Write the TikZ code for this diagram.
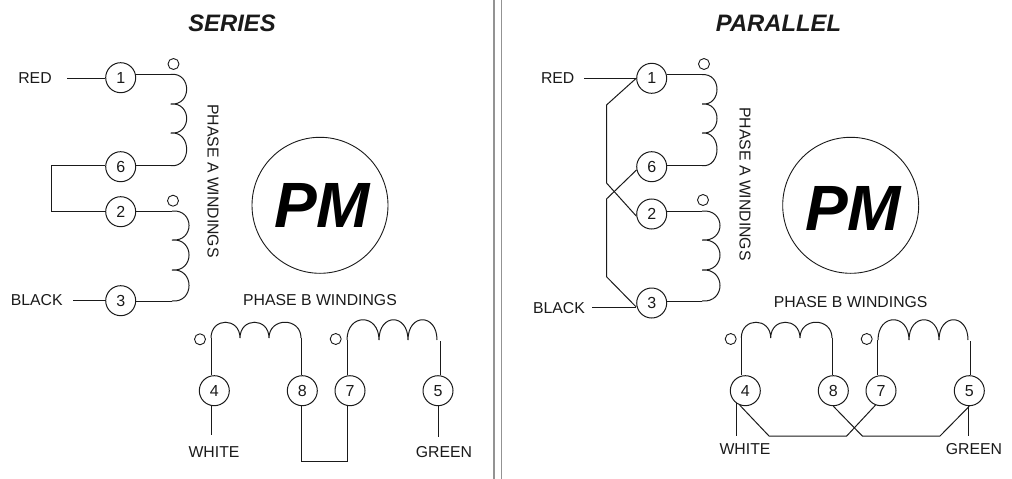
\documentclass[tikz,border=0pt]{standalone}
\usepackage{fontspec}
\setmainfont{Liberation Sans}
\definecolor{ink}{HTML}{1A1A1A}
\tikzset{
  wire/.style={draw=ink,line width=1pt,line join=miter},
  term/.style={circle,draw=ink,line width=1pt,minimum size=30pt,inner sep=0pt,font=\fontsize{16}{18}\selectfont,text=ink},
  tap/.style={circle,draw=ink,line width=0.9pt,minimum size=11pt,inner sep=0pt},
  lbl/.style={inner sep=0pt,font=\fontsize{15.8}{18}\selectfont,text=ink},
  heading/.style={inner sep=0pt,font=\fontsize{23.8}{26}\selectfont\bfseries\itshape,text=ink},
  motor/.style={circle,draw=ink,line width=0.9pt,minimum size=136pt,inner sep=0pt},
  pmtext/.style={inner sep=0pt,font=\fontsize{64}{66}\selectfont\bfseries\itshape,text=black},
  divider/.style={draw=gray!85,line width=1.4pt}
}
% vertical coil: x, control x, four y values
\newcommand{\vcoil}[6]{\draw[wire] (#1,#3) .. controls (#2,#3-2) and (#2,#4+2) .. (#1,#4)
  .. controls (#2,#4-2) and (#2,#5+2) .. (#1,#5)
  .. controls (#2,#5-2) and (#2,#6+2) .. (#1,#6);}
% horizontal coil: y, control y, four x values
\newcommand{\hcoil}[6]{\draw[wire] (#3,#1) .. controls (#3+0,#2) and (#4-0,#2) .. (#4,#1)
  .. controls (#4+0,#2) and (#5-0,#2) .. (#5,#1)
  .. controls (#5+0,#2) and (#6-0,#2) .. (#6,#1);}
\begin{document}
\begin{tikzpicture}[x=1pt,y=-1pt]
\useasboundingbox (0,0) rectangle (1012,479);
% divider
\coordinate (dt1) at (494,0); \coordinate (db1) at (494,479);
\coordinate (dt2) at (501.7,0); \coordinate (db2) at (501.7,479);
\draw[divider] (dt1) -- (db1);
\draw[divider] (dt2) -- (db2);
\node[heading] (ts) at (232,23) {SERIES};
\node[heading] (tp) at (778.5,23) {PARALLEL};
\node[motor] (cml) at (320,205.3) {};
\node[pmtext] (pml) at (322,205.3) {PM};
\node[motor] (cmr) at (850.7,205.3) {};
\node[pmtext] (pmr) at (853,208) {PM};

%%%%% SERIES
\node[term] (a1) at (120.7,77.7) {1};
\node[term] (a6) at (120.7,166.7) {6};
\node[term] (a2) at (120.7,211.7) {2};
\node[term] (a3) at (120.7,300.7) {3};
\node[tap] (ta1) at (173.5,64) {};
\node[tap] (ta2) at (173,200.7) {};
\node[lbl] (lred) at (35,78) {RED};
\node[lbl] (lblack) at (36.7,300) {BLACK};
\node[lbl,rotate=-90] (lpa) at (213,181) {PHASE A WINDINGS};
\coordinate (r1) at (67,78);
\coordinate (r3) at (73,300.7);
\coordinate (ca1) at (170.7,74.3);
\coordinate (ca2) at (170.7,165.7);
\coordinate (ca3) at (172,211);
\coordinate (ca4) at (172,301);
\coordinate (j6) at (51,165.7);
\coordinate (j2) at (51,211);
\draw[wire] (r1) -- (a1.west |- r1);
\draw[wire] (a1.east |- ca1) -- (ca1);
\draw[wire] (a6.east |- ca2) -- (ca2);
\draw[wire] (a2.east |- ca3) -- (ca3);
\draw[wire] (r3) -- (a3.west);
\draw[wire] (a3.east |- ca4) -- (ca4);
\draw[wire] (a6.west |- j6) -- (j6) -- (j2) -- (a2.west |- j2);
\vcoil{170.7}{192}{74.3}{104}{133}{165.7}
\vcoil{172}{194.7}{211}{240}{270}{301}

\node[lbl] (lpb) at (320,300) {PHASE B WINDINGS};
\node[tap] (tb1) at (200,339.3) {};
\node[tap] (tb2) at (335.7,339) {};
\node[term] (b4) at (214.3,390.7) {4};
\node[term] (b8) at (302.3,390.7) {8};
\node[term] (b7) at (350,390.7) {7};
\node[term] (b5) at (438,390.7) {5};
\node[lbl] (lw) at (214,452) {WHITE};
\node[lbl] (lg) at (444,452) {GREEN};
\coordinate (cb1) at (211,338);
\coordinate (cb2) at (301,338);
\coordinate (cb3) at (347,340);
\coordinate (cb4) at (440,341);
\coordinate (e4) at (211,435);
\coordinate (e5) at (438,437);
\coordinate (j8) at (301,461.7);
\coordinate (j7) at (347,461.7);
\draw[wire] (cb1) -- (cb1 |- b4.north);
\draw[wire] (cb2) -- (cb2 |- b8.north);
\draw[wire] (cb3) -- (cb3 |- b7.north);
\draw[wire] (cb4) -- (cb4 |- b5.north);
\draw[wire] (e4 |- b4.south) -- (e4);
\draw[wire] (e5 |- b5.south) -- (e5);
\draw[wire] (j8 |- b8.south) -- (j8) -- (j7) -- (j7 |- b7.south);
\hcoil{338}{317}{211}{240}{269}{301}
\hcoil{340}{313}{347}{379}{408}{437}

%%%%% PARALLEL
\node[term] (c1) at (651.7,78.3) {1};
\node[term] (c6) at (651.7,166.7) {6};
\node[term] (c2) at (651.7,214) {2};
\node[term] (c3) at (651.7,303) {3};
\node[tap] (tc1) at (704,64) {};
\node[tap] (tc2) at (703,200) {};
\node[lbl] (rred) at (557.7,78) {RED};
\node[lbl] (rblack) at (559,308) {BLACK};
\node[lbl,rotate=-90] (rpa) at (745,184) {PHASE A WINDINGS};
\coordinate (rr1) at (584,78);
\coordinate (rr3) at (592,307);
\coordinate (cc1) at (702,74.7);
\coordinate (cc2) at (702,165.7);
\coordinate (cc3) at (702,211);
\coordinate (cc4) at (702,301.7);
\coordinate (k1) at (606.5,105);
\coordinate (k2) at (606.5,183);
\coordinate (k3) at (606.5,199);
\coordinate (k4) at (606.5,276.7);
\draw[wire] (rr1) -- (c1.west |- rr1);
\draw[wire] (rr3) -- (c3.west |- rr3);
\draw[wire] (c1.east |- cc1) -- (cc1);
\draw[wire] (c6.east |- cc2) -- (cc2);
\draw[wire] (c2.east |- cc3) -- (cc3);
\draw[wire] (c3.east |- cc4) -- (cc4);
\draw[wire] (c1.west) -- (k1) -- (k2) -- (c2.188);
\draw[wire] (c6.192) -- (k3) -- (k4) -- (c3.west |- rr3);
\vcoil{702}{722}{74.7}{104}{133}{165.7}
\vcoil{702}{726}{211}{240}{270}{301}

\node[lbl] (rpb) at (850.7,302) {PHASE B WINDINGS};
\node[tap] (td1) at (730.7,339) {};
\node[tap] (td2) at (866.7,339) {};
\node[term] (d4) at (745.3,390.7) {4};
\node[term] (d8) at (833.3,390.7) {8};
\node[term] (d7) at (881,390.7) {7};
\node[term] (d5) at (969.3,390.7) {5};
\node[lbl] (rw) at (745,449) {WHITE};
\node[lbl] (rg) at (974,449) {GREEN};
\coordinate (cd1) at (741.3,338);
\coordinate (cd2) at (832,338);
\coordinate (cd3) at (877.5,340);
\coordinate (cd4) at (970,341);
\coordinate (f4) at (736.7,436);
\coordinate (f5) at (968.7,436);
\coordinate (m1) at (769,436);
\coordinate (m2) at (846.7,436);
\coordinate (m3) at (862.3,436);
\coordinate (m4) at (940,436);
\draw[wire] (cd1) -- (cd1 |- d4.north);
\draw[wire] (cd2) -- (cd2 |- d8.north);
\draw[wire] (cd3) -- (cd3 |- d7.north);
\draw[wire] (cd4) -- (cd4 |- d5.north);
\draw[wire] (f4 |- d4.235) -- (f4);
\draw[wire] (f5 |- d5.south) -- (f5);
\draw[wire] (d4.249) -- (m1) -- (m2) -- (d7.249);
\draw[wire] (d8.south) -- (m3) -- (m4) -- (d5.south);
\hcoil{338}{317}{741.3}{770.7}{800}{832}
\hcoil{340}{313}{878}{909}{939}{968}
\end{tikzpicture}
\end{document}
